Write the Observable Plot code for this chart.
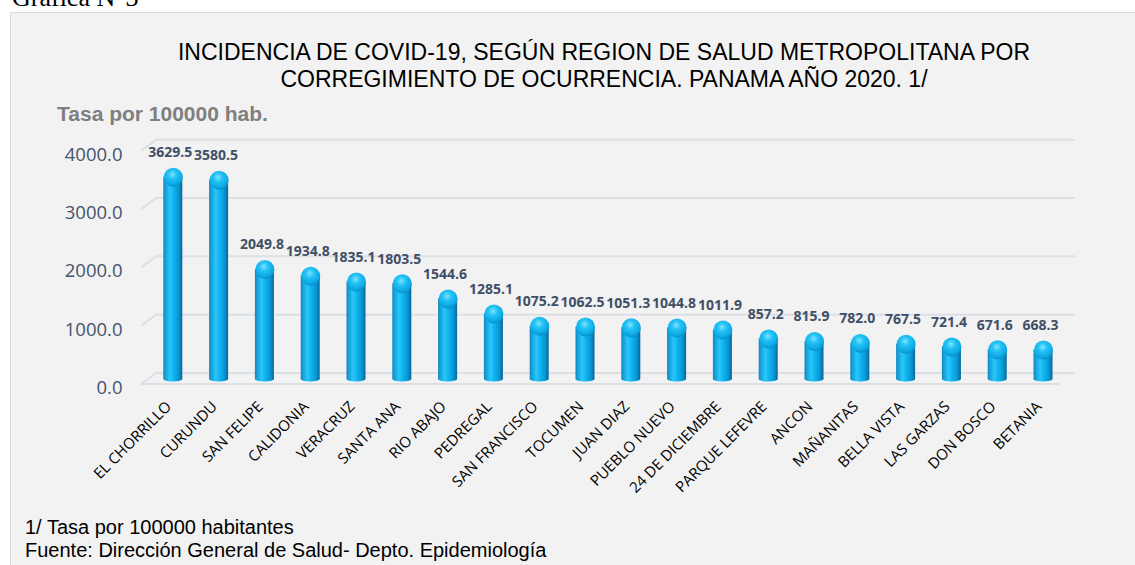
<!DOCTYPE html>
<html><head><meta charset="utf-8">
<script src="https://cdn.jsdelivr.net/npm/d3@7"></script>
<script src="https://cdn.jsdelivr.net/npm/@observablehq/plot@0.6"></script>
<style>
html,body{margin:0;padding:0;background:#fff;}
#page{position:relative;width:1135px;height:565px;overflow:hidden;background:#fff;}
#panel{position:absolute;left:10px;top:12px;width:1140px;height:560px;background:#f2f2f2;border:1px solid #d9d9d9;box-sizing:border-box;}
#grafica{position:absolute;left:12px;top:-15px;font-family:"Liberation Serif","Times New Roman",serif;font-size:26px;line-height:26px;color:#000;white-space:nowrap;}
#title{position:absolute;left:54px;width:1100px;top:38.5px;text-align:center;font-family:"Liberation Sans",Arial,sans-serif;font-size:23px;line-height:27px;color:#000;}
#ylab{position:absolute;left:57px;top:103px;font-family:"Liberation Sans",Arial,sans-serif;font-weight:bold;font-size:21px;line-height:21px;color:#7f7f7f;white-space:nowrap;}
#foot{position:absolute;left:25px;top:515.5px;font-family:"Liberation Sans",Arial,sans-serif;font-size:20px;line-height:23px;color:#000;white-space:nowrap;}
#chart{position:absolute;left:0;top:125px;}
</style></head>
<body>
<div id="page">
  <div id="panel"></div>
  <div id="grafica">Gráfica N°3</div>
  <div id="title">INCIDENCIA DE COVID-19, SEGÚN REGION DE SALUD METROPOLITANA POR<br>CORREGIMIENTO DE OCURRENCIA. PANAMA AÑO 2020. 1/</div>
  <div id="ylab">Tasa por 100000 hab.</div>
  <div id="chart"></div>
  <div id="foot">1/ Tasa por 100000 habitantes<br>Fuente: Dirección General de Salud- Depto. Epidemiología</div>
</div>
<script>
const names = ["EL CHORRILLO","CURUNDU","SAN FELIPE","CALIDONIA","VERACRUZ","SANTA ANA","RIO ABAJO","PEDREGAL","SAN FRANCISCO","TOCUMEN","JUAN DIAZ","PUEBLO NUEVO","24 DE DICIEMBRE","PARQUE LEFEVRE","ANCON","MAÑANITAS","BELLA VISTA","LAS GARZAS","DON BOSCO","BETANIA"];
const values = [3629.5,3580.5,2049.8,1934.8,1835.1,1803.5,1544.6,1285.1,1075.2,1062.5,1051.3,1044.8,1011.9,857.2,815.9,782.0,767.5,721.4,671.6,668.3];
const yTicks = [0,1000,2000,3000,4000];

const data = names.map((name, i) => ({name, value: values[i]}));

const W = 1135, H = 360;
const mL = 136.5, mR = 55.7, mT = 20.7, mB = 106;
const R = 9.5;
const gridColor = "#dcdfe6";

function perspective(index, scales, vals, dims) {
  const g = d3.create("svg:g");
  const left = dims.marginLeft, right = dims.width - dims.marginRight;
  for (const t of yTicks) {
    const yb = scales.y(t) - 6.5;
    g.append("line").attr("x1", left + 4.5).attr("y1", yb + 11.5).attr("x2", left + 20.5).attr("y2", yb)
      .attr("stroke", gridColor).attr("stroke-width", 2);
  }
  const yf = scales.y(0) + 5;
  g.append("line").attr("x1", left + 4.5).attr("x2", right - 20.3).attr("y1", yf).attr("y2", yf)
    .attr("stroke", gridColor).attr("stroke-width", 2);
  return g.node();
}

function bases(index, scales, vals, dims) {
  const g = d3.create("svg:g");
  const bw = scales.x.bandwidth();
  for (const d of data) {
    g.append("ellipse").attr("cx", scales.x(d.name) + bw / 2).attr("cy", scales.y(0))
      .attr("rx", bw / 2).attr("ry", 2.5).attr("fill", "url(#barGrad)");
  }
  return g.node();
}

const chart = Plot.plot({
  width: W, height: H,
  marginLeft: mL, marginRight: mR, marginTop: mT, marginBottom: mB,
  style: {fontFamily: "'Open Sans', sans-serif", background: "transparent", overflow: "visible"},
  x: {domain: names, padding: 0.585, round: false, axis: null},
  y: {domain: [0, 4000], axis: null},
  marks: [
    Plot.ruleY(yTicks, {y: d => d, dy: -6.5, insetLeft: 20.5, insetRight: 4.3, stroke: gridColor, strokeWidth: 2}),
    perspective,
    Plot.text(yTicks, {y: d => d, text: d => d.toFixed(1), frameAnchor: "left", textAnchor: "end", dx: -14.5, dy: 8.5, fill: "#44546a", fontSize: 18.5}),
    bases,
    Plot.barY(data, {x: "name", y: "value", insetTop: R, fill: "url(#barGrad)"}),
    Plot.dot(data, {x: "name", y: "value", r: R, dy: R, fill: "url(#capGrad)", stroke: null}),
    Plot.text(data, {x: "name", y: "value", text: d => d.value.toFixed(1), dy: -15, dx: -3, fill: "#3f4f66", fontWeight: "bold", fontSize: 14}),
    Plot.text(data, {x: "name", text: "name", frameAnchor: "bottom", rotate: -45, textAnchor: "end", dy: 28, dx: -1, fill: "#000", fontSize: 15})
  ]
});

const defs = d3.select(chart).insert("defs", ":first-child");
const lg = defs.append("linearGradient").attr("id", "barGrad").attr("x1", 0).attr("x2", 1).attr("y1", 0).attr("y2", 0);
[["0%","#1686bd"],["14%","#14a6df"],["35%","#2cc6f7"],["55%","#0db4ef"],["80%","#0a97d3"],["100%","#07679a"]]
  .forEach(([o,c]) => lg.append("stop").attr("offset", o).attr("stop-color", c));
const rg = defs.append("radialGradient").attr("id", "capGrad").attr("cx", 0.45).attr("cy", 0.35).attr("r", 0.75);
[["0%","#7fe4ff"],["30%","#26c3f6"],["70%","#0ca8e4"],["100%","#0877ad"]]
  .forEach(([o,c]) => rg.append("stop").attr("offset", o).attr("stop-color", c));

document.getElementById("chart").appendChild(chart);
</script>
</body></html>
